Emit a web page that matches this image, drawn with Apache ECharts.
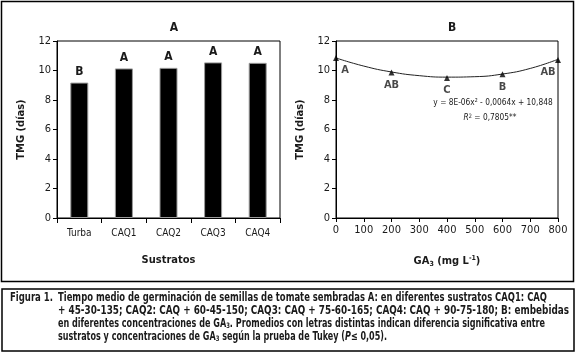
<!DOCTYPE html>
<html>
<head>
<meta charset="utf-8">
<script src="https://cdn.jsdelivr.net/npm/echarts@6/dist/echarts.min.js"></script>
<style>
  html, body { margin: 0; padding: 0; background: #fff; }
  #chart { width: 576px; height: 354px; }
</style>
</head>
<body>
<div id="chart"></div>
<script>
// panel A: substrates
const sustratos = ['Turba', 'CAQ1', 'CAQ2', 'CAQ3', 'CAQ4']
const tmgSustratos = [9.18, 10.14, 10.18, 10.55, 10.52]
const letrasSustratos = ['B', 'A', 'A', 'A', 'A']

// panel B: GA3 concentrations
const dosisGA3 = [0, 200, 400, 600, 800]
const tmgGA3 = [10.84, 9.86, 9.5, 9.74, 10.72]
const letrasGA3 = ['A', 'AB', 'C', 'B', 'AB']
// fitted curve
const curvaX = [0, 100, 200, 300, 400, 500, 600, 700, 800]
const curvaY = [10.85, 10.3, 9.9, 9.65, 9.55, 9.58, 9.76, 10.14, 10.76]

const yTicks = [0, 2, 4, 6, 8, 10, 12]

const caption = [
  'Tiempo medio de germinación de semillas de tomate sembradas A: en diferentes sustratos CAQ1: CAQ',
  '+ 45-30-135; CAQ2: CAQ + 60-45-150; CAQ3: CAQ + 75-60-165; CAQ4: CAQ + 90-75-180; B: embebidas',
  '{a|en diferentes concentraciones de GA}{s|3}{a|. Promedios con letras distintas indican diferencia significativa entre}',
  '{a|sustratos y concentraciones de GA}{s|3}{a| según la prueba de Tukey (}{i|P}{a|≤ 0,05).}'
]
// where each printed caption line ends
const captionEnds = [547, 569, 547, 389]

const FONT = '"DejaVu Sans Condensed", "DejaVu Sans", sans-serif'
const INK = '#1a1a1a'
const CAP_FONT = 'bold 11.5px ' + FONT

// squeeze each caption line so it spans like the printed one
const ctx = document.createElement('canvas').getContext('2d')
ctx.font = CAP_FONT
const plain = (s) => s.replace(/\{[a-z]+\|/g, '').replace(/\}/g, '')
const capScales = caption.map((line, i) => (captionEnds[i] - 58) / ctx.measureText(plain(line)).width)
const figScale = 43 / ctx.measureText('Figura 1.').width

const chart = echarts.init(document.getElementById('chart'), null, { renderer: 'canvas' })

const yAxisBase = (gridIndex) => ({
  gridIndex,
  type: 'value',
  min: yTicks[0],
  max: yTicks[yTicks.length - 1],
  interval: 2,
  name: 'TMG (días)',
  nameLocation: 'middle',
  nameGap: 30,
  nameTextStyle: { fontFamily: FONT, fontWeight: 'bold', fontSize: 11, color: INK },
  axisLine: { show: true, lineStyle: { color: '#000', width: 1 } },
  axisTick: { show: true, length: 4, lineStyle: { color: '#000' } },
  axisLabel: { fontFamily: FONT, fontSize: 11, color: INK, margin: 6 },
  splitLine: { show: false }
})

const captionRich = {
  a: { font: CAP_FONT, fill: INK },
  i: { font: 'italic ' + CAP_FONT, fill: INK },
  s: { font: 'bold 7.5px ' + FONT, fill: INK, verticalAlign: 'bottom', padding: [5, 0, 0, 0] }
}

chart.setOption({
  animation: false,
  textStyle: { fontFamily: FONT },
  title: [
    { text: 'A', left: 169, top: 17, textAlign: 'center',
      textStyle: { fontFamily: FONT, fontWeight: 'bold', fontSize: 12, color: INK } },
    { text: 'B', left: 447, top: 17, textAlign: 'center',
      textStyle: { fontFamily: FONT, fontWeight: 'bold', fontSize: 12, color: INK } }
  ],
  grid: [
    { left: 57, top: 41, width: 223, height: 177, show: true, borderColor: '#000', borderWidth: 1, backgroundColor: 'transparent' },
    { left: 336, top: 41, width: 222, height: 177, show: true, borderColor: '#000', borderWidth: 1, backgroundColor: 'transparent' }
  ],
  xAxis: [
    {
      gridIndex: 0,
      type: 'category',
      data: sustratos,
      boundaryGap: true,
      name: 'Sustratos',
      nameLocation: 'middle',
      nameGap: 37,
      nameTextStyle: { fontFamily: FONT, fontWeight: 'bold', fontSize: 11, color: INK },
      axisLine: { lineStyle: { color: '#000', width: 1 } },
      axisTick: { show: true, length: 5, alignWithLabel: false, lineStyle: { color: '#000' } },
      axisLabel: { fontFamily: FONT, fontSize: 10, color: INK, margin: 10 }
    },
    {
      gridIndex: 1,
      type: 'value',
      min: 0,
      max: 800,
      interval: 100,
      name: '{b|GA}{sub|3}{b| (mg L}{sup|-1}{b|)}',
      nameLocation: 'middle',
      nameGap: 37,
      nameTextStyle: {
        rich: {
          b: { fontFamily: FONT, fontWeight: 'bold', fontSize: 11, color: INK },
          sub: { fontFamily: FONT, fontWeight: 'bold', fontSize: 7, color: INK, verticalAlign: 'bottom', padding: [6, 0, 0, 0] },
          sup: { fontFamily: FONT, fontWeight: 'bold', fontSize: 7, color: INK, verticalAlign: 'top', padding: [0, 0, 6, 0] }
        }
      },
      axisLine: { lineStyle: { color: '#000', width: 1 } },
      axisTick: { show: true, length: 4, lineStyle: { color: '#000' } },
      axisLabel: { fontFamily: FONT, fontSize: 11, color: INK, margin: 7 },
      splitLine: { show: false }
    }
  ],
  yAxis: [yAxisBase(0), yAxisBase(1)],
  series: [
    {
      type: 'bar',
      xAxisIndex: 0,
      yAxisIndex: 0,
      data: tmgSustratos,
      barWidth: 18,
      itemStyle: { color: '#000', borderColor: '#9a9a9a', borderWidth: 1 },
      label: {
        show: true,
        position: 'top',
        distance: 5,
        formatter: (p) => letrasSustratos[p.dataIndex],
        fontFamily: FONT,
        fontWeight: 'bold',
        fontSize: 12,
        color: INK
      }
    },
    {
      type: 'line',
      xAxisIndex: 1,
      yAxisIndex: 1,
      data: curvaX.map((x, i) => [x, curvaY[i]]),
      smooth: true,
      showSymbol: false,
      lineStyle: { color: '#222', width: 1 },
      z: 2
    },
    {
      type: 'scatter',
      xAxisIndex: 1,
      yAxisIndex: 1,
      symbol: 'triangle',
      symbolSize: 6,
      itemStyle: { color: '#000' },
      data: dosisGA3.map((x, i) => {
        let offset = [0, 0]
        if (i === 0) offset = [9, 0]
        if (i === dosisGA3.length - 1) offset = [-10, 0]
        return {
          value: [x, tmgGA3[i]],
          label: { offset }
        }
      }),
      label: {
        show: true,
        position: 'bottom',
        distance: 4,
        formatter: (p) => letrasGA3[p.dataIndex],
        fontFamily: FONT,
        fontWeight: 'bold',
        fontSize: 11,
        color: INK
      },
      z: 3
    }
  ],
  graphic: [
    // outer frame around both panels
    { type: 'rect', shape: { x: 1.5, y: 1.5, width: 572, height: 280 },
      style: { fill: 'none', stroke: '#000', lineWidth: 1.5 } },
    // equation of the fitted curve
    { type: 'text', x: 493, y: 103, scaleX: 0.92,
      style: { text: 'y = 8E-06x² - 0,0064x + 10,848', font: '9px ' + FONT, fill: INK,
        textAlign: 'center', textVerticalAlign: 'middle' } },
    { type: 'text', x: 490, y: 118, scaleX: 0.92,
      style: {
        text: '{i|R}{s|2}{t| = 0,7805**}',
        textAlign: 'center', textVerticalAlign: 'middle',
        rich: {
          i: { font: 'italic 9px ' + FONT, fill: INK },
          s: { font: '6px ' + FONT, fill: INK, verticalAlign: 'top' },
          t: { font: '9px ' + FONT, fill: INK }
        }
      } },
    // caption box
    { type: 'rect', shape: { x: 2, y: 289, width: 572, height: 62 },
      style: { fill: 'none', stroke: '#000', lineWidth: 1.5 } },
    { type: 'text', x: 10, y: 298, scaleX: figScale,
      style: { text: 'Figura 1.', font: CAP_FONT, fill: INK, textVerticalAlign: 'middle' } }
  ].concat(caption.map((line, i) => ({
    type: 'text', x: 58, y: 298 + i * 13, scaleX: capScales[i],
    style: { text: line, rich: captionRich, font: CAP_FONT, fill: INK, textVerticalAlign: 'middle' }
  })))
})
</script>
</body>
</html>
